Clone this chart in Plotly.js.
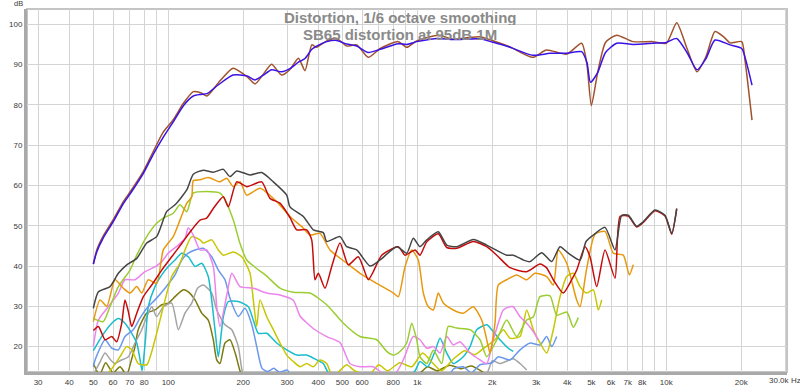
<!DOCTYPE html>
<html>
<head>
<meta charset="utf-8">
<script src="https://cdn.plot.ly/plotly-3.0.1.min.js"></script>
<style>html,body{margin:0;padding:0;background:#fff;}#chart{width:800px;height:387px;}</style>
</head>
<body>
<div id="chart"></div>
<script>
// ---------- DATA (Hz, dB) ----------
const fundRawHz = [50,51.6,54.8,60.1,66,71.3,79.4,87.1,95.5,104.7,115,126,135,143,159,182,207,223,240,260,285,308,333,354,377,394,433,475,520,571,635,710,838,908,994,1218,1391,1600,1785,2000,2355,2907,3300,3981,4571,4800,5000,5300,5700,6322,7350,8845,10000,11010,12110,13285,14430,15690,17000,18030,20080,20700,22090];
const fundRawDb = [40.5,44,47.5,51.5,56,59,63.5,68.5,73.3,76.3,80.4,83.3,83,82.2,85.5,89.1,87,85.2,87.5,90.1,87.4,88.8,91.6,88.5,94.9,94.3,95.9,96.5,94.6,94.9,91.8,94,95.7,94.3,95.9,97.3,96.3,96.7,96.9,96,94.4,91.8,93.6,92.6,95.3,90,79.8,88,95.5,97.3,95.7,95.7,95.3,100.4,94,88.2,92,98.2,96.9,95.4,95.7,91.1,76.2];

const fundSmHz = [50,51.6,54.8,60.1,66,71.3,79.4,87.1,95.5,104.7,115,126,135,143,159,182,207,223,240,260,285,308,333,354,377,394,433,475,520,571,635,710,838,908,994,1218,1391,1785,2000,2355,2907,3410,3981,4571,4800,4960,5300,5700,6322,7350,8845,10000,11010,12110,13285,14430,15690,18030,20080,21090,22090];
const fundSmDb = [40.5,43.5,47,51,55.5,58.5,63,67.8,72,75.8,79.8,82.2,82.6,82.8,85,87.4,87.2,86.2,87.3,88.7,88.2,89,90.6,91.5,93.8,94.6,95.7,96,95.1,94.6,93,93.8,95.2,95,95.7,96.5,96.2,96.4,95.6,94.3,92.3,92.8,92.8,93.2,90.5,85.6,88,93,95.3,95,95.3,95.5,96.5,93,88.7,91.5,96.1,94.9,94,90,84.9];

const thdHz = [50,52.4,58.3,63,68.1,74.7,81.9,89.8,98.5,106.4,118.6,126,138.2,151.6,166.3,176.9,188.2,212.9,237.2,264.1,298.9,308,348.5,382.2,419.3,432.6,489.3,520.6,571,645.7,708.5,826.8,906.7,963.6,1025,1091,1214,1313,1440,1679,1900,2286,2429,2666,2836,3160,3465,3743,4041,4503,4760,5092,5674,6223,6622,7037,7604,8080,9006,9880,10513,11010];
const thdDb = [29.5,33.6,34.9,38.2,40.3,41.9,45.7,47.3,53.5,55.2,58.9,62.8,63.8,63.3,64,62.2,63.6,62.6,63.2,60.9,57.6,54.7,52.3,49,48.3,46.1,47.3,44.8,44,40,41.5,44.8,43.2,46.9,44.8,46.5,48.5,45.2,44.8,46.6,45.2,42.7,42.7,41.5,41.1,43.3,41.1,44.8,43.2,41.5,46.1,47.7,49.6,44,52.6,52.6,49.9,51,53.9,52.6,48.1,54.3];

const h2Hz = [50,52.4,55.7,59.3,62,65,67,69.1,71.3,74.7,79.4,85.8,94.1,103.2,113.2,124.2,134.1,142.6,151.6,166.3,174.2,188.2,206.5,237.2,256.1,280.9,308.2,327.9,359.6,376.6,388.3,400.5,425.9,453.2,489.3,528.4,579.5,635.6,665.7,719.5,838.9,892.4,979,1025,1091,1214,1313,1440,1679,1900,2100,2357,2750,3110,3300,3517,3857,4169,4368,4716,4939,5254,5674,6223,6520,7037,7604,8080,9006,9880,10513,11010];
const h2Db = [24,25,21.7,22.5,21.2,25.8,31.6,28.7,25,28.3,32.4,35.3,39,42.3,45.6,49,51.4,51.9,54.3,57.2,54.7,60.9,59.7,60.9,56.8,55.6,52,49,49,46.5,36.6,38.2,34.5,39.9,45.7,40.3,42.3,36.6,38.6,42.7,44.8,42.7,44,42.7,46,48,44.6,44.4,46.1,44.8,42.5,39.6,38.6,40.5,39.6,36.6,33.3,36.6,39,44.8,42.3,34.9,44,37,52.3,52.4,49.7,50.8,53.7,52.4,47.9,54.1];

const h3Hz = [50,53.2,56.6,61.1,66,70.2,74.7,78.2,83.1,89.8,95.5,104.7,111.4,118.6,124.2,126,134.1,144.7,161.3,171.6,182.4,194.1,206.5,233.5,272.4,308.2,348.5,370.7,406.7,446,520.6,588.8,686.9,801,838.9,892.4,949.5,1009,1057,1107,1160,1214,1272,1395,1530,1679,1814,1928,1959,2051,2115,2286,2507,2750,2969,3309,3517,3684,3981,4368,4503,4790,5173,5674,6124,6718,7102,7370];
const h3Db = [26.2,31.6,30,36.6,34.5,33.3,34.9,33.3,36.6,35.7,44,47.3,51.4,55.6,57.2,61.2,61.4,62,60.9,61.8,59.7,60.9,57.6,59.3,56,52.3,49.4,47.7,48.1,44,40.7,38.2,35.7,33.3,32.4,39.8,44,41.5,33.3,29.9,29.1,33.3,30.8,29.1,28.3,29.9,26.6,20,18.4,25.8,35.3,36.6,37.8,36.6,38.2,37.4,35.3,44,40.7,31.5,29.9,39.4,47.9,48.6,43.2,42.7,37.8,40.3];

const h4Hz = [50,54.8,58.3,63,70.2,74.7,81.9,89.8,95.5,104.7,111.4,118.6,126,142.6,161.3,168.9,182.4,194.1,206.5,226.5,248.4,280.9,317.6,370.7,432.6,504.5,588.8,686.9,753.6,801,852,906.7,949.5,994.4,1025,1091,1160,1253,1332,1440,1628,1786,1900,2085,2286,2507,2750,2924,3110,3412,3630,3981,4231,4432];
const h4Db = [27,26.2,29.9,34.9,39,42.7,47.3,50.6,51.9,53.1,55.2,53.5,58.1,58.5,58.1,56.4,51.4,45.6,41.5,39.4,37.5,34.5,33.5,33.3,30.4,25.8,22.5,21.7,18.8,17.9,18.8,20.9,25.8,21.7,17.5,15.8,19.1,15.8,25,24.6,24.2,21.7,17.5,21.7,26.6,22.5,26.6,27.4,32.4,32.6,27.8,28.6,24.8,27.2];

const h5Hz = [50,52.4,57.4,63,67,73.5,80.6,88.4,94.1,100,109.7,116.7,120.3,126,134.1,142.6,151.6,156.5,161.3,172,180,194.1,219.4,248.4,280.9,317.6,338,382.2,432.6,489.3,536.6,588.8,665.7,742,820,878.6,963.6,1025,1091,1160,1234,1313,1395,1484,1628,1786,1900,2020,2215,2357,2429,2585,2750,2924,3061];
const h5Db = [20,26.6,29.9,33.3,36.6,36.6,38.6,39.8,41.1,43.2,45.2,46.9,49.5,47.7,44,44,39.9,30,25,33,38.2,34.9,34.5,33.3,32.8,31.5,27.6,24.5,22.5,21,15.8,15,15,13,13.5,16.7,22.5,21.7,19.6,20,18.4,22.5,20.4,21.2,18.4,16.7,15.8,21.7,29.1,29.9,29.9,27.4,25.8,23.7,21.7];

const h6Hz = [55,60.1,64,68,71.3,75.7,81.9,88.4,95.5,103.2,111.4,116.7,124.2,134.1,138.2,149.4,158.8,166.3,182.4,197.2,212.9,219.4,226.5,233.5,248.4,264.1,280.9,298.9,317.6,338,359.6,382.2,406.7,432.6,458.6,520,560,640,700,760,850,950,1050,1150,1250,1400,1550,1700,1850,2051,2215,2357,2585,2750,2924,3110,3309,3517,3743,3981,4231,4503,4790,5092,5333,5504];
const h6Db = [12,15,17.5,20,19.2,15.8,15.5,21.7,29.9,37.4,40.7,44,47.3,46.5,45.7,46.5,44,42.7,43.5,42.3,38.2,31.6,25,31.6,27.4,24.2,20.9,17.9,16.3,15,15.8,15,16.7,15.8,12.5,15.5,14,13,15.5,14,16,15,18.4,16,14,17,19,18,19.6,21.7,24.2,22.1,22.5,29.1,24.2,20.9,18.4,24.2,32.4,37.4,38.2,34.9,33.3,34.1,29.1,31.6];

const h7Hz = [50,50.8,55.7,59.3,63,67,72.3,76.9,81.9,88.4,97,106.4,113.2,120.3,128,138.2,149.4,158.8,168.9,176.9,191,203.2,216.3,226.5,237.9,250,265,280,300,320,1300,1400,1530,1650,1786,2000,2115,2357,2585,2836,3110,3309,3465,3630];
const h7Db = [15,16.7,21.7,19.6,19.2,22.5,24.2,27,29.5,31.6,34.5,37.8,41.5,43.2,44,44.4,42.3,39,36.6,32,27.5,29.5,25.5,20,14.6,13.8,14.6,13.6,14.2,12,12,14.5,15,13.5,15.5,16,17.5,16.7,19.2,20.9,20.4,22.5,20,22.5];

const h8Hz = [50,54,59.3,63,67,71.3,74.7,76.9,78.5,81,83.1,88.4,94.1,100,106.4,113.2,120.3,128,136.2,144.7,154,158.8,166.3,174.2,191,209.6,219.4,229.8,248.4,272.4,298.9,327.9,359.6,394.5,419.3,446,900,980,1025,1100,1180,1234,1313,1395,1530,1628,1732,1900,1990,2148,2320,2429];
const h8Db = [19,22.5,25.8,27,25.8,23.3,20.9,17,14,22,29.9,34.9,37.8,39.9,41.5,43.2,42.3,39.9,40.7,37.4,24.2,17.5,27.4,31.2,31.2,29.9,26.6,23.3,23.3,20.9,19.2,17.9,17.9,16.7,15.8,13,12,14,16.3,15,19,22.1,18.4,15.8,17.5,20,24.2,25.4,24.2,21.7,19.6,18.8];

const h9Hz = [50,53,55.7,59,61.1,64,69.1,73.5,78.2,81.9,85.8,89.8,95.5,103.2,109.7,116.7,124.2,131,138.2,149.4,156.5,168.9,179.8,191,198,205,1880,2000,2150,2430,2585,2750];
const h9Db = [13,16,18.4,16.5,15.8,16.5,17.5,20.9,24.2,27.4,29.9,27.4,29.9,30.8,24.2,28.3,30.8,34.5,35.3,33.3,29.1,25.4,24.2,20,14,12,13,16.5,15.8,17,15.8,14.2];

const h10Hz = [50,53,56,60,64,68,71.3,73.5,75.7,81.9,88.4,94.1,100,106.4,114.9,120.3,128,136.2,144.7,151.6,156.5,161.3,168.9,176.9,185.6,194,200,1000,1100,1200,1350,1500,1650,1800,1950];
const h10Db = [15.8,13,16,13.5,15,13,17,20,24.2,28.3,29.1,30.4,30.8,32.4,34.1,33.6,31.6,28.3,26.6,21.7,16.7,15.8,20.9,21.7,18.4,14,12,13,15,14,15.4,14.5,15.2,14,12.5];

const yTicks = [20,30,40,50,60,70,80,90,100];
const xGridHz = [30,40,50,60,70,80,90,100,200,300,400,500,600,700,800,900,1000,2000,3000,4000,5000,6000,7000,8000,9000,10000,20000,30000];
const xTickText = ['30','40','50','60','70','80','','100','200','300','400','500','600','','800','','1k','2k','3k','4k','5k','6k','7k','8k','','10k','20k',''];
const titleLines = ['Distortion, 1/6 octave smoothing','SB65 distortion at 95dB 1M'];

// ---------- TRACES ----------
function tr(x, y, color, w) {
  return {x: x, y: y, type: 'scatter', mode: 'lines', line: {color: color, width: w || 1.5, shape: 'spline', smoothing: 0.6}, hoverinfo: 'skip', showlegend: false};
}
const data = [
  tr(h10Hz, h10Db, '#7d7a10'),
  tr(h9Hz, h9Db, '#a3a3a3'),
  tr(h8Hz, h8Db, '#18bccb'),
  tr(h7Hz, h7Db, '#6a98ec'),
  tr(h6Hz, h6Db, '#c8c600'),
  tr(h5Hz, h5Db, '#ec84ec'),
  tr(h4Hz, h4Db, '#9acd32'),
  tr(h3Hz, h3Db, '#e8980e'),
  tr(h2Hz, h2Db, '#c40c0c'),
  tr(thdHz, thdDb, '#454545'),
  tr(fundRawHz, fundRawDb, '#a0522d'),
  tr(fundSmHz, fundSmDb, '#3a12e6')
];

const fontFam = 'Liberation Sans, Arial, sans-serif';
const tickCol = '#3a3a3a';
const L = 27, R = 787, T = 9, B = 372;
function px(xp) { return (xp - L) / (R - L); }
function py(yp) { return (B - yp) / (B - T); }

const layout = {
  width: 800, height: 387,
  margin: {l: L, r: 800 - R, t: T, b: 387 - B, pad: 0},
  paper_bgcolor: '#ffffff', plot_bgcolor: '#ffffff',
  font: {family: fontFam, size: 8, color: tickCol},
  showlegend: false,
  xaxis: {
    type: 'log', range: [1.4325, 4.4847],
    tickmode: 'array', tickvals: xGridHz, ticktext: xTickText,
    showgrid: true, gridcolor: '#d4d4d4', gridwidth: 1,
    showline: true, linecolor: '#a9a9a9', linewidth: 3,
    ticks: '', zeroline: false, tickfont: {size: 8, color: tickCol},
    fixedrange: true
  },
  yaxis: {
    range: [13.7, 103.8],
    tickmode: 'array', tickvals: yTicks,
    showgrid: true, gridcolor: '#d4d4d4', gridwidth: 1,
    showline: true, linecolor: '#a9a9a9', linewidth: 3,
    ticks: '', zeroline: false, tickfont: {size: 8, color: tickCol},
    fixedrange: true
  },
  shapes: [
    {type: 'rect', xref: 'paper', yref: 'paper', x0: 0, x1: 1, y0: 0, y1: 1, line: {color: '#c4c4c4', width: 2}, layer: 'below'}
  ],
  annotations: [
    {xref: 'paper', yref: 'paper', x: px(400), y: py(17.2), xanchor: 'center', yanchor: 'middle', showarrow: false, height: 15,
     text: '<b>' + titleLines[0] + '</b>', font: {family: fontFam, size: 15, color: '#8a8a8a'}},
    {xref: 'paper', yref: 'paper', x: px(400), y: py(34.3), xanchor: 'center', yanchor: 'middle', showarrow: false, height: 15,
     text: '<b>' + titleLines[1] + '</b>', font: {family: fontFam, size: 15, color: '#8a8a8a'}},
    {xref: 'paper', yref: 'paper', x: px(18), y: py(4), xanchor: 'center', yanchor: 'middle', showarrow: false,
     text: 'dB', font: {family: fontFam, size: 7.5, color: tickCol}},
    {xref: 'paper', yref: 'paper', x: px(779), y: py(381), xanchor: 'center', yanchor: 'middle', showarrow: false,
     text: '30.0k', font: {family: fontFam, size: 8, color: tickCol}},
    {xref: 'paper', yref: 'paper', x: px(795.5), y: py(381), xanchor: 'center', yanchor: 'middle', showarrow: false,
     text: 'Hz', font: {family: fontFam, size: 8, color: tickCol}}
  ]
};

Plotly.newPlot('chart', data, layout, {staticPlot: true, displayModeBar: false});
</script>
</body>
</html>
